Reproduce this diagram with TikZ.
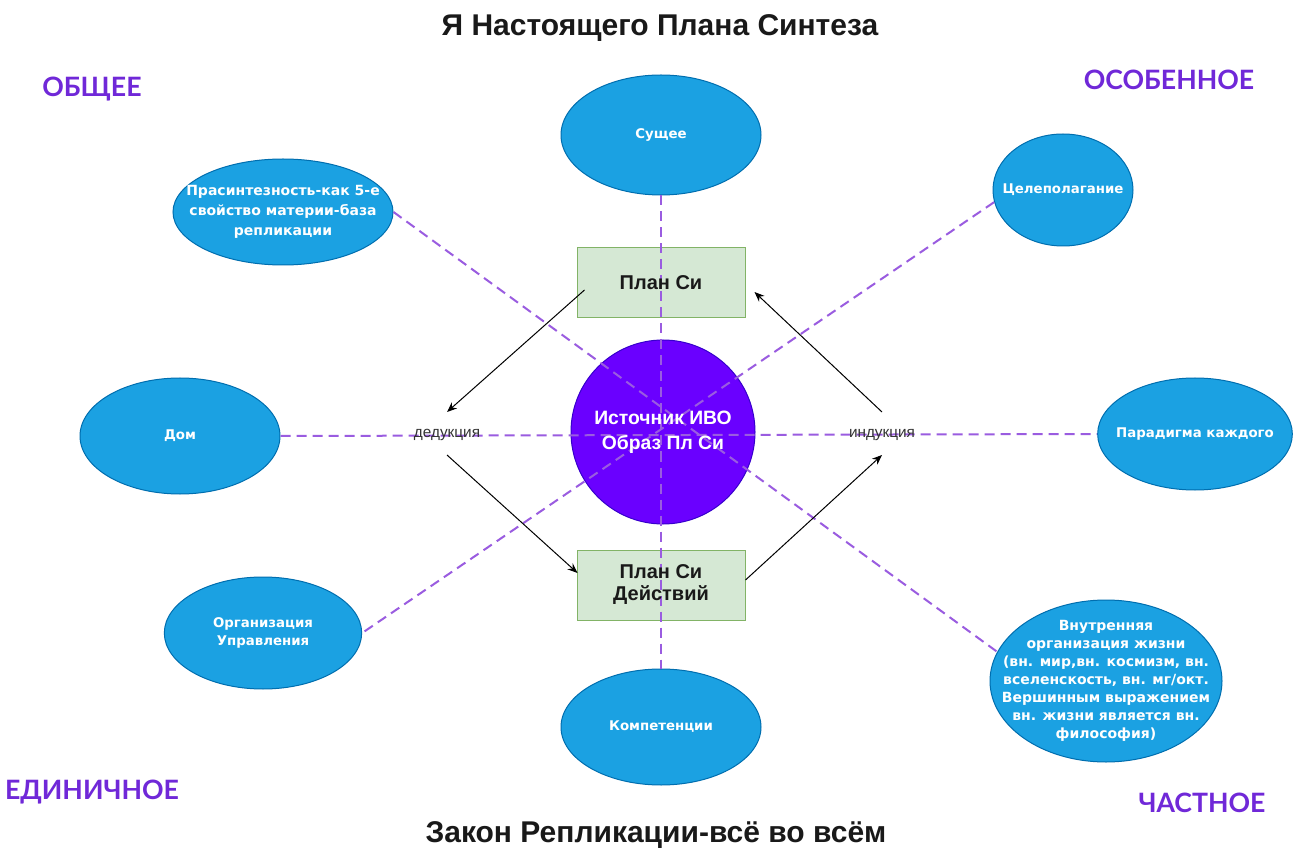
\documentclass[tikz,border=0pt]{standalone}
\usepackage{fontspec}
\setmainfont{Liberation Sans}
\newfontfamily\dejavu{DejaVu Sans}
\newfontfamily\lato{Lato}
\usetikzlibrary{arrows.meta,shapes.geometric,calc}
\definecolor{eblue}{HTML}{1BA1E2}
\definecolor{eblued}{HTML}{006EAF}
\definecolor{gfill}{HTML}{D5E8D4}
\definecolor{gline}{HTML}{82B366}
\definecolor{violetfill}{HTML}{6A00FF}
\definecolor{violetline}{HTML}{3700CC}
\definecolor{dashcol}{HTML}{9A5CE0}
\definecolor{cornercol}{HTML}{7028D8}
\begin{document}
\begin{tikzpicture}[x=0.75pt,y=-0.75pt,
 oval/.style={ellipse, fill=eblue, draw=eblued, line width=0.75pt, inner sep=0pt},
 etext/.style={text=white, font=\dejavu\bfseries\fontsize{10}{13.5}\selectfont, align=center},
 planbox/.style={rectangle, fill=gfill, draw=gline, line width=0.75pt, minimum width=126pt, minimum height=52.5pt, inner sep=0pt},
 ptext/.style={font=\bfseries\fontsize{15}{16.5}\selectfont, text=black!90, align=center},
 purpledash/.style={draw=dashcol, line width=1.5pt, dash pattern=on 7.5pt off 4.5pt},
 arr/.style={draw=black, line width=0.75pt, -{Stealth[length=7.5pt,width=6pt]}},
 lab/.style={font=\fontsize{11.5}{13}\selectfont, text=black!80, inner sep=0pt},
 cornerlab/.style={font=\lato\bfseries\fontsize{20}{24}\selectfont, text=cornercol, anchor=base, inner sep=0pt},
 titlelab/.style={font=\bfseries\fontsize{22.5}{26}\selectfont, text=black!90, anchor=base, inner sep=0pt}
]
\fill[white] (0,0) rectangle (1296,855);
\useasboundingbox (0,0) rectangle (1296,855);

% titles and corner labels
\node[titlelab] (title) at (660,36) {Я Настоящего Плана Синтеза};
\node[titlelab] (law) at (656,842) {Закон Репликации-всё во всём};
\node[cornerlab] (obsh) at (92,97) {ОБЩЕЕ};
\node[cornerlab] (osob) at (1169,90) {ОСОБЕННОЕ};
\node[cornerlab] (edin) at (92,799) {ЕДИНИЧНОЕ};
\node[cornerlab] (chast) at (1202,812) {ЧАСТНОЕ};

% shapes
\node[oval, minimum width=150pt, minimum height=90pt] (sushee) at (661,135) {};
\node[oval, minimum width=165pt, minimum height=79.5pt] (prasin) at (283,212) {};
\node[oval, minimum width=105pt, minimum height=84pt] (celep) at (1063,190) {};
\node[oval, minimum width=150pt, minimum height=87pt] (dom) at (180,436) {};
\node[oval, minimum width=146pt, minimum height=84pt] (parad) at (1195,434) {};
\node[oval, minimum width=148pt, minimum height=84pt] (org) at (263,633) {};
\node[oval, minimum width=150pt, minimum height=87pt] (komp) at (661,727) {};
\node[oval, minimum width=174pt, minimum height=121.5pt] (vnutr) at (1106,681) {};
\node[circle, fill=violetfill, draw=violetline, line width=0.75pt, minimum size=138pt, inner sep=0pt] (src) at (663,432) {};
\node[planbox] (plan) at (661,283) {};
\node[planbox] (act) at (661,585) {};

% dashed connectors
\draw[purpledash] (sushee.south) -- (komp.north);
\draw[purpledash] (dom.east) -- (parad.west);
\draw[purpledash] (prasin.east) -- (vnutr.165);
\draw[purpledash] (celep.190) -- (org.east);

% texts
\node[etext] (sushT) at (sushee) {Сущее};
\node[etext, font=\dejavu\bfseries\fontsize{10.5}{15}\selectfont] (prasT) at (prasin) {Прасинтезность-как 5-е\\свойство материи-база\\репликации};
\node[etext] (celT) at (celep) {Целеполагание};
\node[etext] (domT) at (dom) {Дом};
\node[etext] (parT) at (parad) {Парадигма каждого};
\node[etext] (orgT) at (org) {Организация\\Управления};
\node[etext] (kompT) at (komp) {Компетенции};
\node[etext, font=\dejavu\bfseries\fontsize{10.5}{13.5}\selectfont] (vnT) at (vnutr) {Внутренняя\\организация жизни\\(вн. мир,вн. космизм, вн.\\вселенскость, вн. мг/окт.\\Вершинным выражением\\вн. жизни является вн.\\философия)};
\node[font=\bfseries\fontsize{14.5}{18.75}\selectfont, text=white, align=center] (srcT) at (src) {Источник ИВО\\Образ Пл Си};
\node[ptext] (planT) at (plan) {План Си};
\node[ptext] (actT) at (act) {План Си\\Действий};

% edge labels
\node[lab] (ded) at (447,435) {дедукция};
\node[lab] (ind) at (882,435) {индукция};

% arrow ends
\coordinate (p1) at ([shift={(8,7)}]plan.west);
\coordinate (d1) at ([shift={(0,-23)}]ded.center);
\coordinate (d2) at ([shift={(0,20)}]ded.center);
\coordinate (p2) at ([shift={(1,-12)}]act.west);
\coordinate (p3) at ([shift={(0,-5)}]act.east);
\coordinate (i1) at ([shift={(0,20)}]ind.center);
\coordinate (i2) at ([shift={(0,-23)}]ind.center);
\coordinate (p4) at ([shift={(9,9)}]plan.east);

\draw[arr] (p1) -- (d1);
\draw[arr] (d2) -- (p2);
\draw[arr] (p3) -- (i1);
\draw[arr] (i2) -- (p4);
\end{tikzpicture}
\end{document}
